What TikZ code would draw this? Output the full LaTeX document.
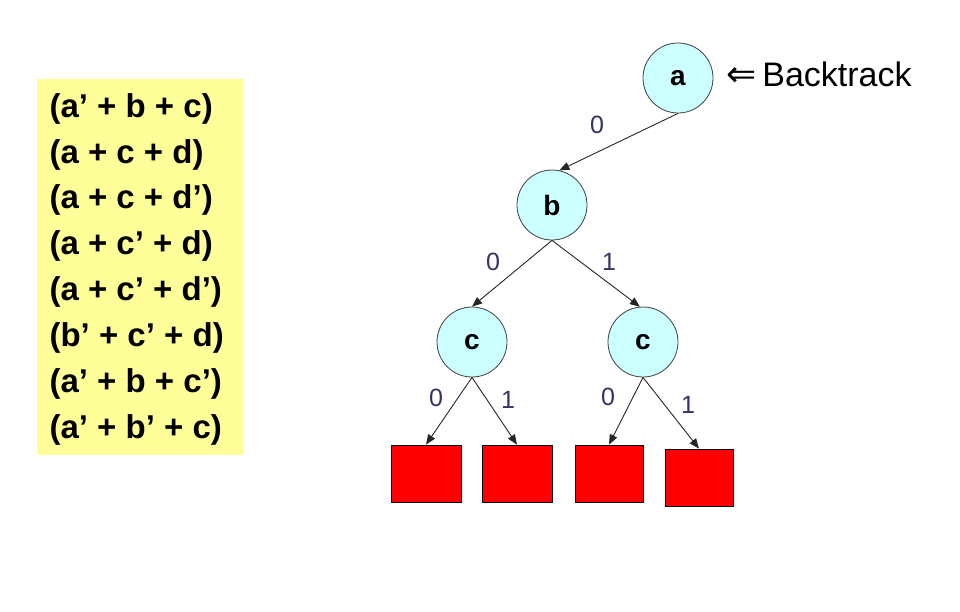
\documentclass[tikz,border=0pt]{standalone}
\usepackage{fontspec}
\setmainfont{Liberation Sans}
\newfontfamily\arrowfont{DejaVu Sans}
\usetikzlibrary{arrows.meta}
\definecolor{clauseyellow}{HTML}{FFFF99}
\definecolor{nodecyan}{HTML}{CCFFFF}
\definecolor{labelblue}{HTML}{333366}
\tikzset{
  var/.style={circle,draw=black!75,fill=nodecyan,line width=0.8pt,minimum size=70pt,inner sep=0pt,font=\fontsize{28}{30}\selectfont\bfseries},
  leaf/.style={draw=black,fill=red,line width=0.8pt,inner sep=0pt},
  edge/.style={draw=black!85,line width=0.9pt,-{Triangle[length=10pt,width=8pt]}},
  lbl/.style={text=labelblue,font=\fontsize{25}{27}\selectfont},
  clause/.style={anchor=west,font=\fontsize{33}{35}\selectfont\bfseries}
}
\begin{document}
\begin{tikzpicture}[x=1pt,y=-1pt]
\useasboundingbox (0,0) rectangle (960,611);
% clause box
\node[fill=clauseyellow,minimum width=207pt,minimum height=376pt,inner sep=0pt,anchor=north west] (box) at (37,79) {};
\node[clause] (l1) at (46,109) {(a’ + b + c)};
\node[clause] (l2) at (46,155) {(a + c + d)};
\node[clause] (l3) at (46,200) {(a + c + d’)};
\node[clause] (l4) at (46,246) {(a + c’ + d)};
\node[clause] (l5) at (46,292) {(a + c’ + d’)};
\node[clause] (l6) at (46,338) {(b’ + c’ + d)};
\node[clause] (l7) at (46,384) {(a’ + b + c’)};
\node[clause] (l8) at (46,430) {(a’ + b’ + c)};
% tree
\node[var] (a) at (678,78) {a};
\node[var] (b) at (552,205) {b};
\node[var] (c1) at (472,342) {c};
\node[var] (c2) at (643,342) {c};
\node[leaf,minimum width=70pt,minimum height=57pt] (s1) at (426,473.5) {};
\node[leaf,minimum width=70pt,minimum height=57pt] (s2) at (517,473.5) {};
\node[leaf,minimum width=68pt,minimum height=57pt] (s3) at (609,473.5) {};
\node[leaf,minimum width=68pt,minimum height=57pt] (s4) at (699,477.5) {};
\node[anchor=west,font=\fontsize{34}{36}\selectfont,inner sep=0pt] (bt) at (726,74) {{\arrowfont\fontsize{36}{38}\selectfont ⇐}\hspace{6pt}Backtrack};
\draw[edge] (a.south) -- (b.78);
\draw[edge] (b.south) -- (c1.north);
\draw[edge] (b.south) -- (c2.95);
\draw[edge] (c1.south) -- (s1.north);
\draw[edge] (c1.south) -- (s2.north);
\draw[edge] (c2.south) -- (s3.north);
\draw[edge] (c2.south) -- (s4.north);
\node[lbl] (e0) at (597,125) {0};
\node[lbl] (e1) at (493,262) {0};
\node[lbl] (e2) at (609,262) {1};
\node[lbl] (e3) at (436,398) {0};
\node[lbl] (e4) at (508,400) {1};
\node[lbl] (e5) at (608,397) {0};
\node[lbl] (e6) at (688,405) {1};
\end{tikzpicture}
\end{document}
